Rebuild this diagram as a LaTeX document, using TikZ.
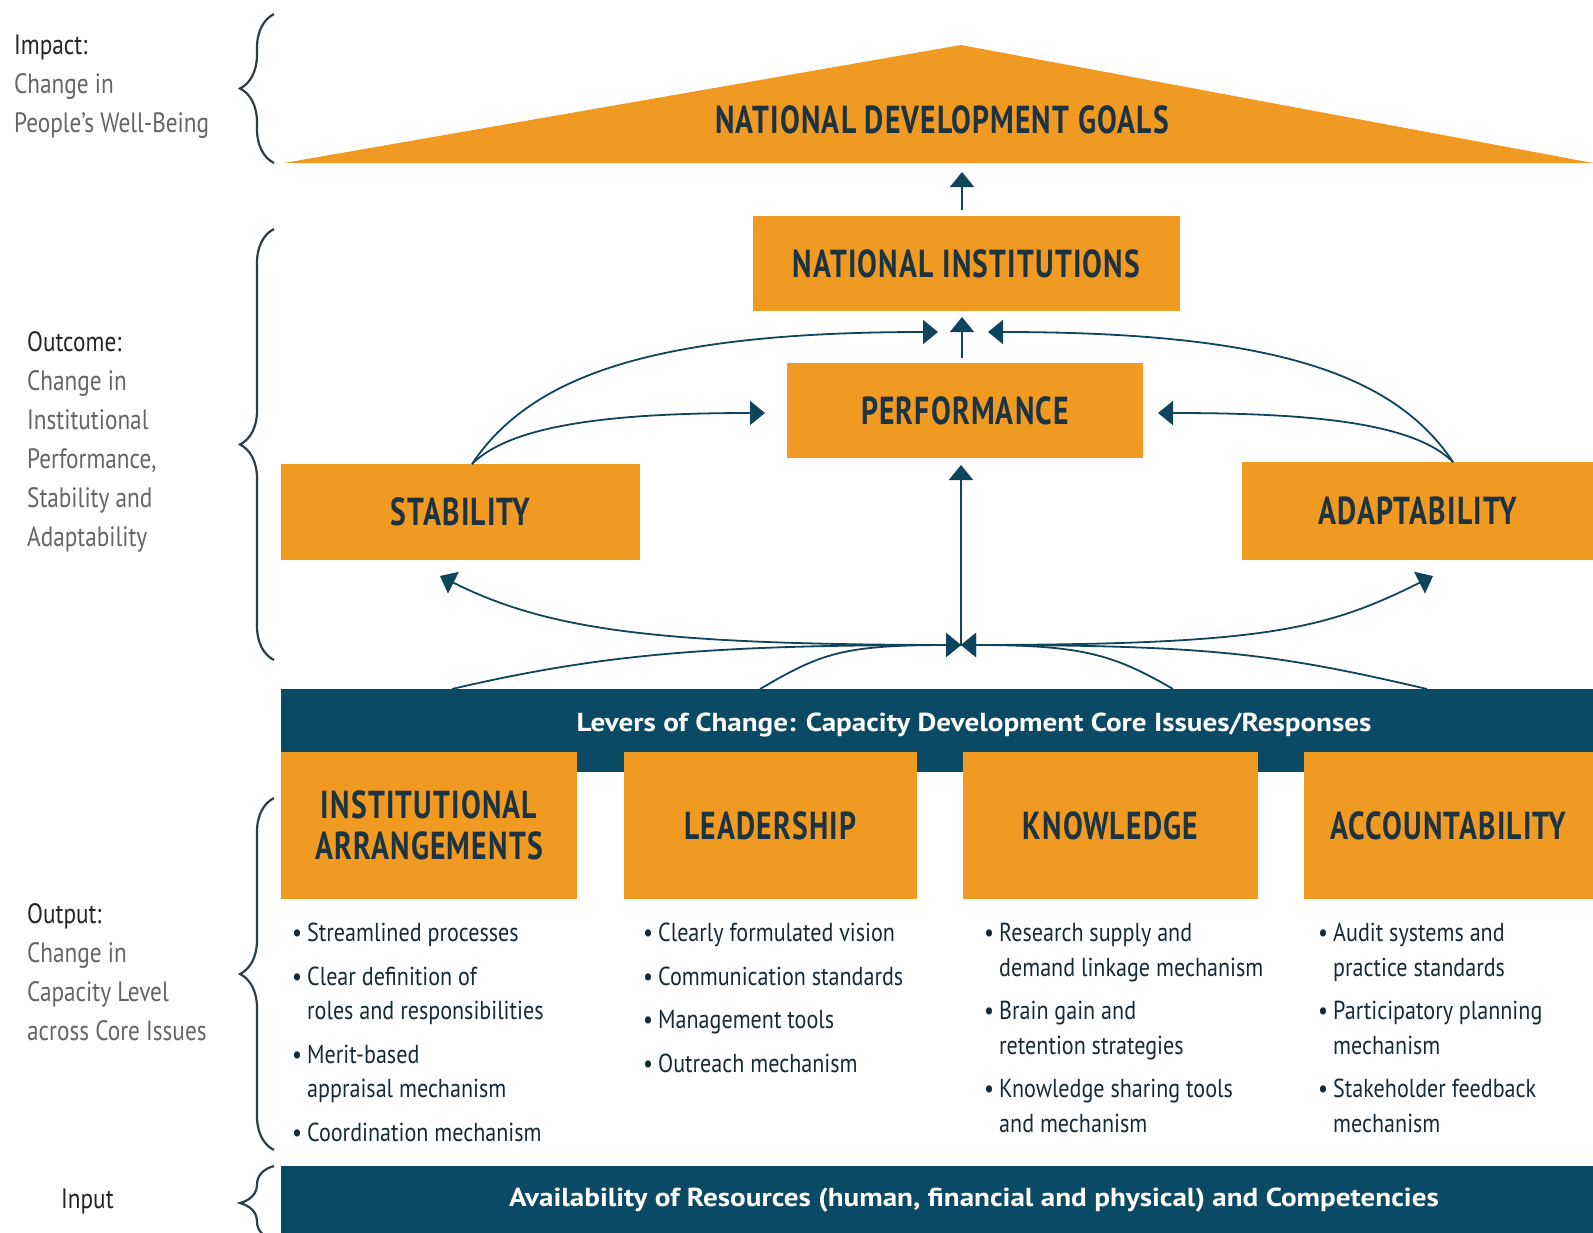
\documentclass[tikz,border=0pt]{standalone}
\usepackage{fontspec}
\setmainfont{PT Sans}
\newfontfamily\cond{PT Sans}[FakeStretch=0.76,LetterSpace=3]
\newfontfamily\condl{PT Sans}[FakeStretch=0.85]
\newfontfamily\condlab{PT Sans}[FakeStretch=0.83]
\newfontfamily\widebar{PT Sans}[FakeStretch=1.12]
\usetikzlibrary{arrows.meta,decorations.pathreplacing}
\definecolor{org}{RGB}{240,154,34}
\definecolor{nav}{RGB}{11,74,100}
\definecolor{txt}{RGB}{28,52,66}
\definecolor{arr}{RGB}{14,68,92}
\definecolor{lab}{RGB}{35,35,40}
\definecolor{labg}{RGB}{100,100,105}
\definecolor{brc}{RGB}{45,62,72}
\newcommand{\bl}[1]{\makebox[15pt][l]{•}#1}
\newcommand{\cl}[1]{\hspace*{15pt}#1}
\tikzset{
  obox/.style={fill=org, draw=none, inner sep=0pt, text=txt, align=center,
    font=\cond\bfseries\fontsize{39}{41}\selectfont},
  navbar/.style={fill=nav, draw=none, inner sep=0pt},
  bartext/.style={text=white, inner sep=0pt, font=\widebar\bfseries\fontsize{26}{28}\selectfont},
  blist/.style={anchor=north west, align=left, inner sep=0pt, text=txt!80!black,
    font=\condl\fontsize{26}{34.5}\selectfont},
  lbl/.style={anchor=north west, align=left, inner sep=0pt, text=labg,
    font=\condlab\fontsize{28}{39}\selectfont},
  arrowline/.style={draw=arr, line width=1.8pt, -{Triangle[length=15pt,width=24pt]}},
  bracestyle/.style={draw=brc, line width=2.2pt, decorate,
    decoration={brace, amplitude=34pt}},
}
\begin{document}
\begin{tikzpicture}[x=1pt,y=-1pt]
\useasboundingbox (0,0) rectangle (1593,1232);
% braces
\draw[bracestyle] (274,163) -- (274,14);
\draw[bracestyle] (274,660) -- (274,229);
\draw[bracestyle] (274,1150) -- (274,798);
\draw[bracestyle] (274,1240) -- (274,1166);
% left labels
\node[lbl] (limpact) at (14,35) {\textcolor{lab}{Impact:}\\Change in\\People’s Well-Being};
\node[lbl] (loutcome) at (27,331) {\textcolor{lab}{Outcome:}\\Change in\\Institutional\\Performance,\\Stability and\\Adaptability};
\node[lbl] (loutput) at (27,903) {\textcolor{lab}{Output:}\\Change in\\Capacity Level\\across Core Issues};
\node[lbl] (linput) at (61,1189) {\textcolor{lab}{Input}};
% top triangle
\fill[org] (284,163) -- (961,45) -- (1593,163) -- cycle;
\node[font=\cond\bfseries\fontsize{39}{41}\selectfont, text=txt, inner sep=0pt] (ndg) at (942,120) {NATIONAL DEVELOPMENT GOALS};
% main boxes
\node[obox, minimum width=427pt, minimum height=95pt] (ni) at (966.5,263.5) {NATIONAL INSTITUTIONS};
\node[obox, minimum width=356pt, minimum height=95pt] (perf) at (965,410.5) {PERFORMANCE};
\node[obox, minimum width=359pt, minimum height=96pt] (stab) at (460.5,512) {STABILITY};
\node[obox, minimum width=351pt, minimum height=98pt] (adapt) at (1417.5,511) {ADAPTABILITY};
% levers bar
\node[navbar, anchor=north west, minimum width=1312pt, minimum height=83pt] (lev) at (281,689) {};
\node[bartext] (levt) at (974,725) {Levers of Change: Capacity Development Core Issues/Responses};
% core issue boxes
\node[obox, minimum width=296pt, minimum height=147pt] (ia) at (429,825.5) {INSTITUTIONAL\\ARRANGEMENTS};
\node[obox, minimum width=293pt, minimum height=147pt] (lead) at (770.5,825.5) {LEADERSHIP};
\node[obox, minimum width=295pt, minimum height=147pt] (know) at (1110.5,825.5) {KNOWLEDGE};
\node[obox, minimum width=289pt, minimum height=147pt] (acc) at (1448.5,825.5) {ACCOUNTABILITY};
% bullet lists
\node[blist] (iab) at (292,923) {\bl{Streamlined processes}\\[9pt]\bl{Clear definition of}\\\cl{roles and responsibilities}\\[9pt]\bl{Merit-based}\\\cl{appraisal mechanism}\\[9pt]\bl{Coordination mechanism}};
\node[blist] (leadb) at (643,923) {\bl{Clearly formulated vision}\\[9pt]\bl{Communication standards}\\[9pt]\bl{Management tools}\\[9pt]\bl{Outreach mechanism}};
\node[blist] (knowb) at (984,923) {\bl{Research supply and}\\\cl{demand linkage mechanism}\\[9pt]\bl{Brain gain and}\\\cl{retention strategies}\\[9pt]\bl{Knowledge sharing tools}\\\cl{and mechanism}};
\node[blist] (accb) at (1318,923) {\bl{Audit systems and}\\\cl{practice standards}\\[9pt]\bl{Participatory planning}\\\cl{mechanism}\\[9pt]\bl{Stakeholder feedback}\\\cl{mechanism}};
% availability bar
\node[navbar, anchor=north west, minimum width=1312pt, minimum height=70pt] (avail) at (281,1166) {};
\node[bartext] (availt) at (974,1200) {Availability of Resources (human, financial and physical) and Competencies};
% connector points
\coordinate (c) at (961,645);
\coordinate (l1) at (452,689);
\coordinate (l2) at (760,689);
\coordinate (r2) at (1173,689);
\coordinate (r1) at (1427,689);
\coordinate (stabtip) at (440,576);
\coordinate (adtip) at (1433,576);
\coordinate (perfb) at (961,465);
\coordinate (st) at (472,464);
\coordinate (at) at (1453,462);
\coordinate (pl) at (765,413);
\coordinate (pr) at (1158,413);
\coordinate (nl) at (938,332);
\coordinate (nr) at (988,332);
\coordinate (pt) at (962,358);
\coordinate (nib) at (962,317);
\coordinate (nit) at (962,210);
\coordinate (tri) at (962,172);
% connectors
\draw[arrowline] (pt) -- (nib);
\draw[arrowline] (nit) -- (tri);
\draw[arrowline] (c) -- (perfb);
\draw[arrowline] (l1) .. controls +(150,-35) and +(-250,0) .. (c);
\draw[arrowline] (l2) .. controls +(60,-35) and +(-120,0) .. (c);
\draw[arrowline] (r1) .. controls +(-150,-35) and +(250,0) .. (c);
\draw[arrowline] (r2) .. controls +(-60,-35) and +(120,0) .. (c);
\draw[arrowline] (c) .. controls +(-300,0) and +(110,55) .. (stabtip);
\draw[arrowline] (c) .. controls +(300,0) and +(-110,55) .. (adtip);
\draw[arrowline] (st) .. controls +(40,-40) and +(-150,0) .. (pl);
\draw[arrowline] (st) .. controls +(60,-90) and +(-280,0) .. (nl);
\draw[arrowline] (at) .. controls +(-40,-40) and +(150,0) .. (pr);
\draw[arrowline] (at) .. controls +(-60,-90) and +(280,0) .. (nr);
\end{tikzpicture}
\end{document}
